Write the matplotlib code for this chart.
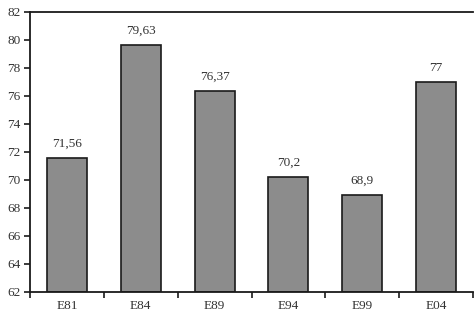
import matplotlib
matplotlib.use("Agg")
import matplotlib.pyplot as plt
from matplotlib.ticker import FixedLocator, NullFormatter

categories = ["E81", "E84", "E89", "E94", "E99", "E04"]
values = [71.56, 79.63, 76.37, 70.2, 68.9, 77]
labels = ["71,56", "79,63", "76,37", "70,2", "68,9", "77"]
yticks = list(range(62, 83, 2))

plt.rcParams['font.family'] = ['Liberation Serif', 'DejaVu Serif']

fig = plt.figure(figsize=(4.74, 3.15), dpi=100)
ax = fig.add_axes([30/474, 23/315, 443/474, 280/315])

x = list(range(len(categories)))
bars = ax.bar(x, [v - 62 for v in values], bottom=62, width=0.54,
              color="#8c8c8c", edgecolor="#1a1a1a", linewidth=1.2)
for xi, v, lab in zip(x, values, labels):
    ax.text(xi, v + 0.6, lab, ha="center", va="bottom", fontsize=9.5, color="#333333")

ax.set_xlim(-0.5, len(categories) - 0.5)
ax.set_ylim(62, 82)
ax.set_yticks(yticks)
ax.set_yticklabels([str(t) for t in yticks], fontsize=9.5, color="#333333")
ax.set_xticks(x)
ax.set_xticklabels(categories, fontsize=9.5, color="#333333")
ax.tick_params(axis="x", which="major", length=0, pad=6)
ax.xaxis.set_minor_locator(FixedLocator([i + 0.5 for i in range(-1, len(categories))]))
ax.xaxis.set_minor_formatter(NullFormatter())
ax.tick_params(axis="x", which="minor", length=4, width=1.2, direction="out", color="#1a1a1a")
ax.tick_params(axis="y", length=4, width=1.2, direction="out", color="#1a1a1a", pad=3)
for s in ["left", "bottom", "top"]:
    ax.spines[s].set_linewidth(1.3)
    ax.spines[s].set_color("#1a1a1a")
ax.spines["right"].set_visible(False)

fig.savefig("out.png", dpi=100)
